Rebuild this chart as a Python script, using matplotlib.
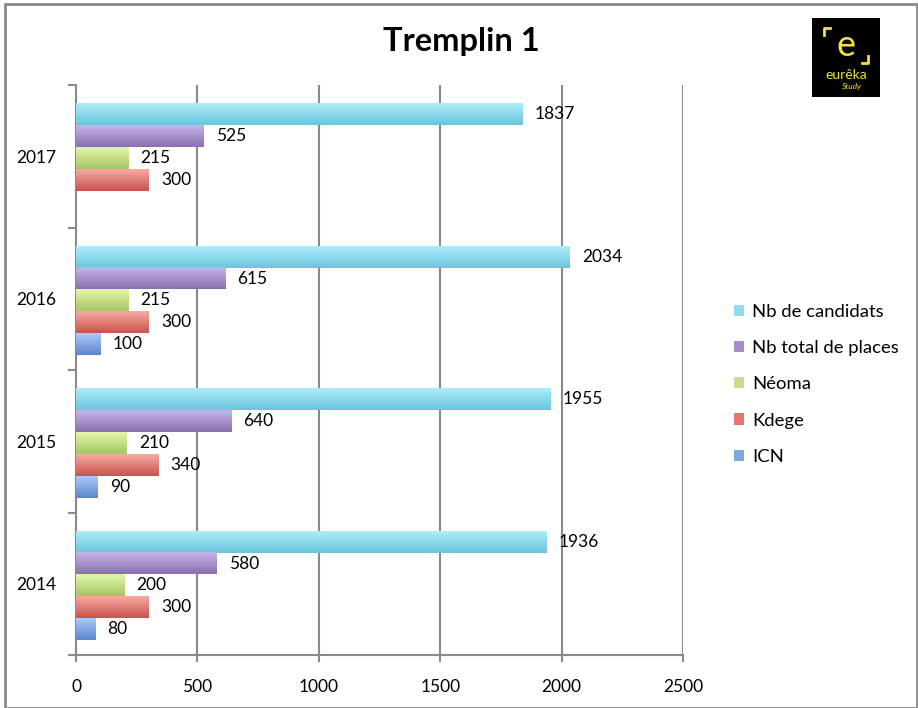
import matplotlib
matplotlib.use("Agg")
import matplotlib.pyplot as plt
import numpy as np
from matplotlib.patches import Rectangle
from matplotlib.colors import LinearSegmentedColormap

plt.rcParams['font.family'] = ['Lato', 'DejaVu Sans']

years = ["2014", "2015", "2016", "2017"]
series = ["Nb de candidats", "Nb total de places", "Néoma", "Kdege", "ICN"]
candidats = [1936, 1955, 2034, 1837]
places = [580, 640, 615, 525]
neoma = [200, 210, 215, 215]
kdege = [300, 340, 300, 300]
icn = [80, 90, 100, np.nan]
colors = ["#92dcef", "#a48fc9", "#c6e08f", "#e2776f", "#7ea6e2"]
tops = ["#aaeefa", "#c6b4e8", "#e2f6aa", "#f6aaa2", "#aacafa"]
bottoms = ["#6cc4dc", "#8a70b0", "#a6c666", "#c9544e", "#5e86cf"]

values = [candidats, places, neoma, kdege, icn]

fig = plt.figure(figsize=(9.18, 7.08), dpi=100)
ax = fig.add_axes([76/918, 53/708, (683-76)/918, (655-85)/708])

h = 0.154
y = np.arange(len(years))
grad = np.linspace(0, 1, 32).reshape(-1, 1)
for i, (name, vals, col) in enumerate(zip(series, values, colors)):
    off = (2 - i) * h - 0.012
    cmap = LinearSegmentedColormap.from_list(name, [bottoms[i], tops[i]])
    ax.barh(y + off, vals, height=h, color=col, label=name, zorder=3, linewidth=0)
    for yy, v in zip(y, vals):
        if np.isnan(v):
            continue
        ax.imshow(grad, cmap=cmap, aspect="auto", origin="lower", zorder=3.5,
                  extent=(0, v, yy + off - h / 2, yy + off + h / 2))
        ax.text(v + 50, yy + off, str(v), va="center", ha="left", fontsize=12.5, zorder=4)

ax.set_xlim(0, 2500)
ax.set_ylim(-0.5, 3.5)
ax.set_xticks([0, 500, 1000, 1500, 2000, 2500])
ax.xaxis.grid(True, color="#8a8a8a", linewidth=1.5, zorder=1)
ax.set_axisbelow(True)
ax.set_yticks(np.arange(-0.5, 4, 1))
ax.set_yticklabels([])
ax.set_yticks(y, minor=True)
ax.set_yticklabels(years, minor=True)
ax.tick_params(axis="y", which="major", length=6, width=1.5, color="#8a8a8a")
ax.tick_params(axis="y", which="minor", length=0, pad=14, labelsize=12.5)
ax.tick_params(axis="x", length=5, width=1.5, color="#8a8a8a", pad=12, labelsize=12.5)
for s in ["top", "right"]:
    ax.spines[s].set_visible(False)
for s in ["left", "bottom"]:
    ax.spines[s].set_color("#8a8a8a")
    ax.spines[s].set_linewidth(1.5)

handles, labels = ax.get_legend_handles_labels()
fig.legend(handles, labels, loc="upper left", bbox_to_anchor=(717/918, 1 - 287/708),
           frameon=False, fontsize=13.3, handlelength=0.55, handleheight=0.55,
           labelspacing=1.1, handletextpad=0.45)

fig.text(461/918, 1 - 41/708, "Tremplin 1", ha="center", va="center",
         fontsize=23.5, fontweight="bold")

# logo
fig.patches.append(Rectangle((812/918, 1 - 97/708), 68/918, 79/708,
                             transform=fig.transFigure, facecolor="black", zorder=5))
fig.text(846/918, 1 - 45/708, "e", ha="center", va="center", fontsize=26,
         color="#f2e33a", zorder=6)
fig.text(846/918, 1 - 75/708, "eurêka", ha="center", va="center", fontsize=10,
         color="#f2e33a", zorder=6)
fig.text(852/918, 1 - 87/708, "Study", ha="center", va="center", fontsize=6,
         color="#f2e33a", style="italic", zorder=6)
for xs, ys in [([824, 824, 830], [35, 28, 28]), ([868, 868, 862], [56, 63, 63])]:
    fig.lines.append(plt.Line2D(np.array(xs) / 918, 1 - np.array(ys) / 708,
                                transform=fig.transFigure, color="#f2e33a",
                                linewidth=2, zorder=6))

# sheet frame
fig.patches.append(Rectangle((5/918, 0), 912/918, 1 - 4/708, transform=fig.transFigure,
                             fill=False, edgecolor="#8a8a8a", linewidth=2, zorder=0))

fig.savefig("out.png", dpi=100)
